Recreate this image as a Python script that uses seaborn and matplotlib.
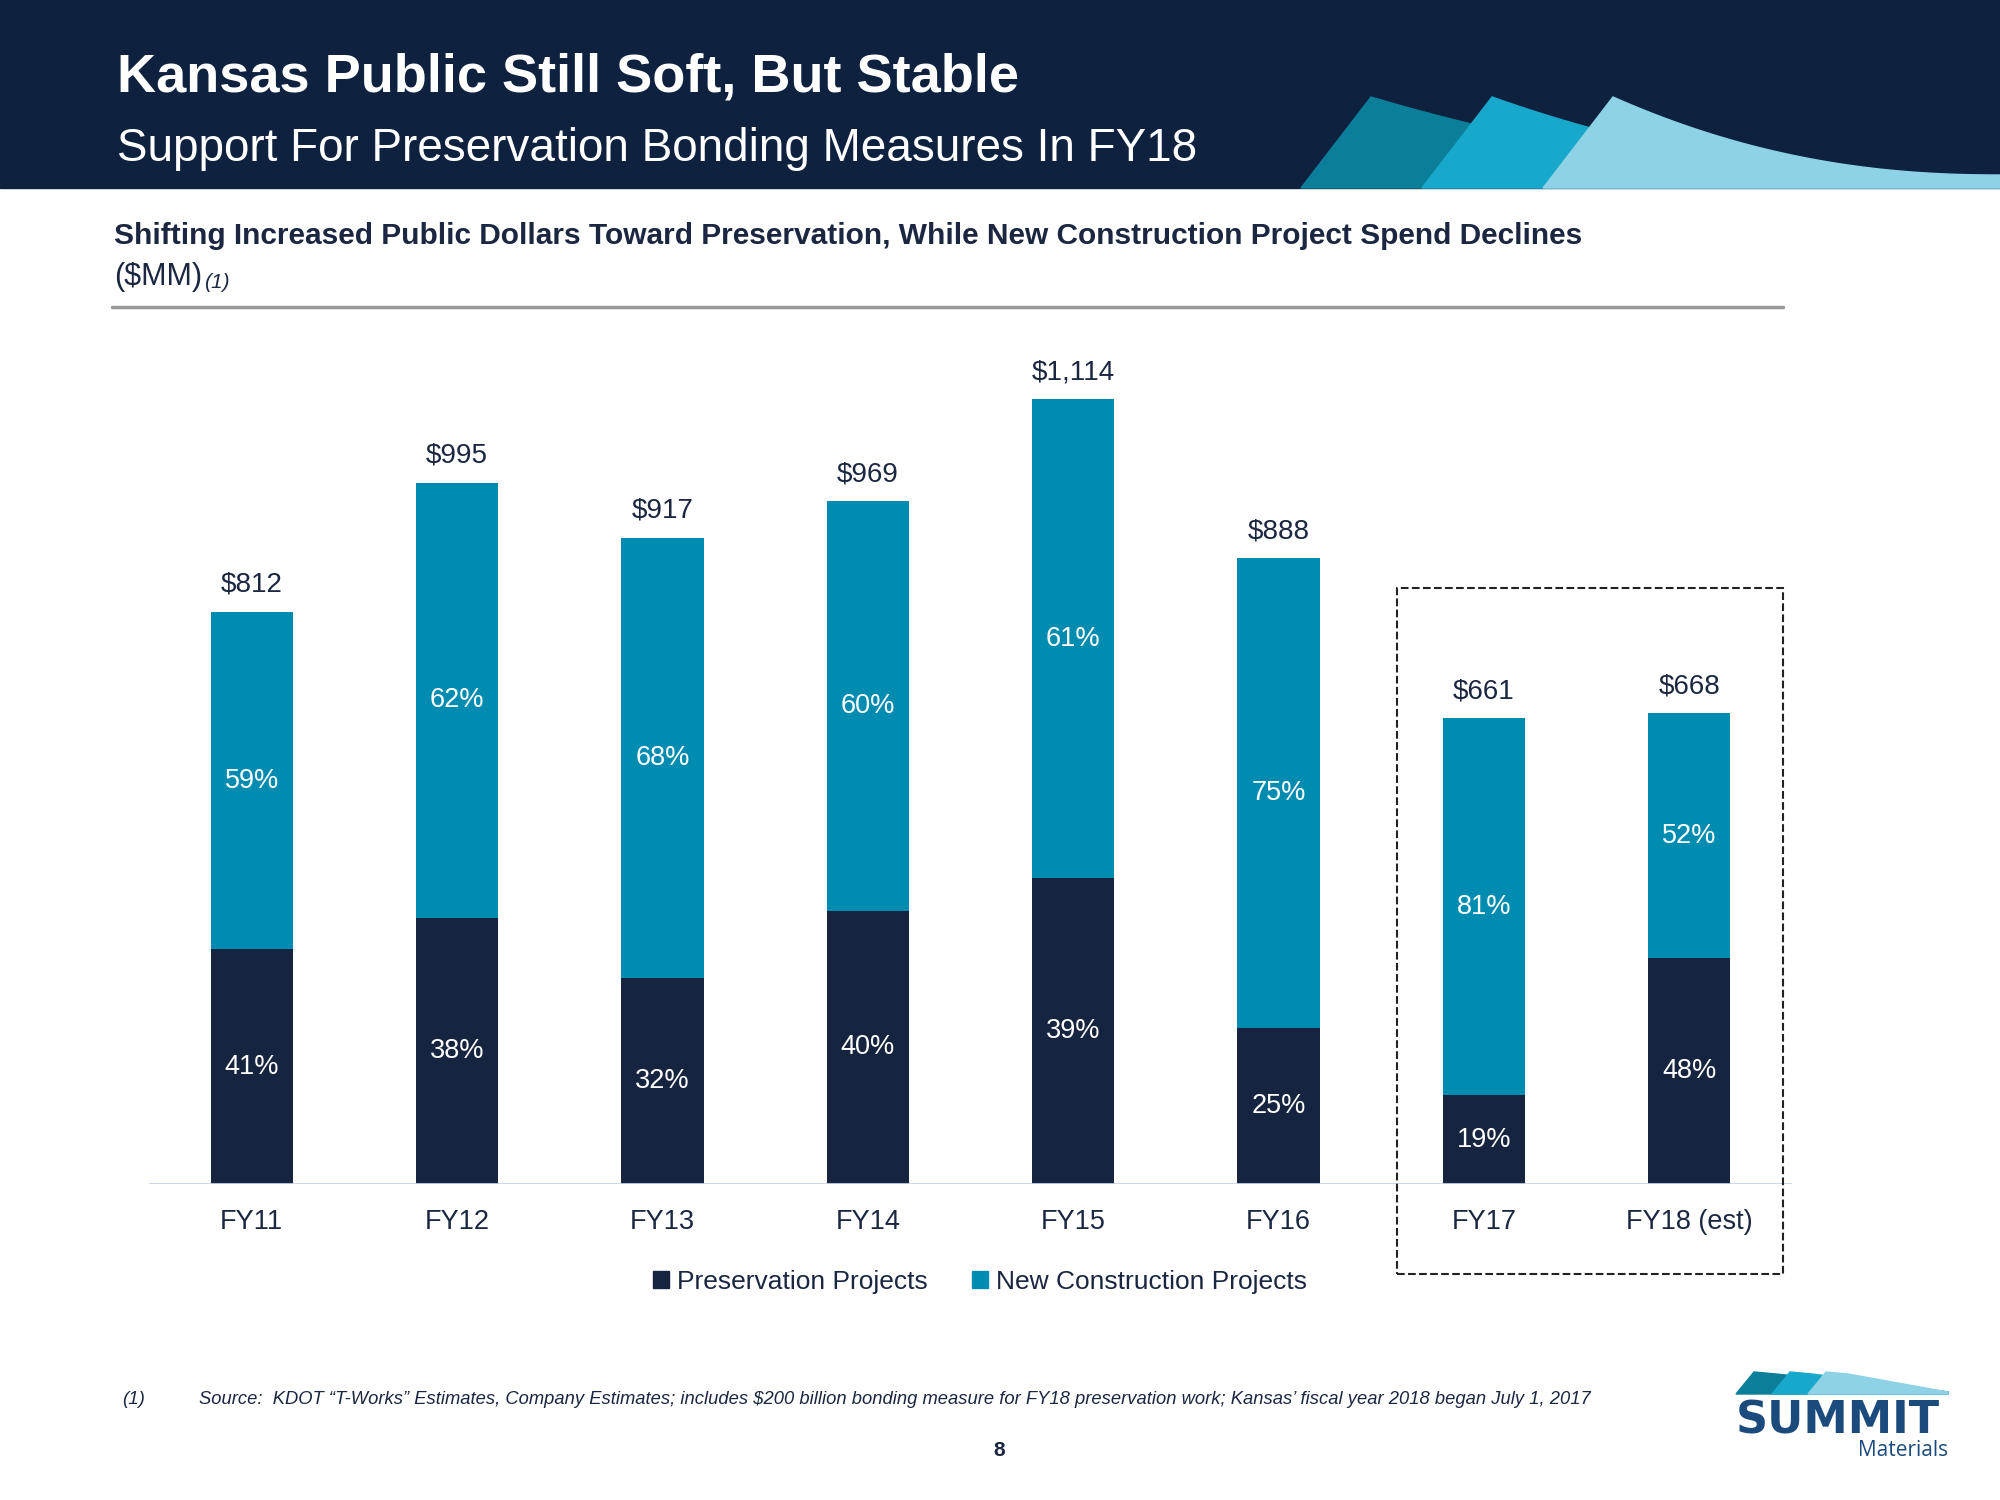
import numpy as np
import pandas as pd
import matplotlib.pyplot as plt
import seaborn as sns
from matplotlib.patches import Rectangle, Polygon

# Data ($MM)
years = ['FY11', 'FY12', 'FY13', 'FY14', 'FY15', 'FY16', 'FY17', 'FY18 (est)']
total_mm = [812, 995, 917, 969, 1114, 888, 661, 668]
preservation_mm = [333, 378, 293, 388, 434, 222, 126, 321]
preservation_pct = [41, 38, 32, 40, 39, 25, 19, 48]
new_constr_pct = [59, 62, 68, 60, 61, 75, 81, 52]
total_labels = ['$812', '$995', '$917', '$969', '$1,114', '$888', '$661', '$668']

NAVY = '#16243f'
TEAL = '#008bb0'
HEADER = '#0e2240'
TXT = '#1b2640'

sns.set_theme(style='white')
plt.rcParams['font.family'] = ['Liberation Sans', 'DejaVu Sans']

df = pd.DataFrame({'year': years, 'total': total_mm, 'pres': preservation_mm})

fig = plt.figure(figsize=(20, 15), dpi=100)
fig.patch.set_facecolor('white')

# header band
fig.patches.append(Rectangle((0, 1 - 188 / 1500), 1, 188 / 1500, transform=fig.transFigure,
                             color=HEADER, zorder=0))
# decorative waves in the header
for xb, xp, yr, col in [(1301, 1371, 182, '#0b7f9a'), (1422, 1492, 179, '#17a8cb'), (1543, 1613, 175, '#8dd2e5')]:
    xs = np.linspace(xp, 2000, 40)
    t = (xs - xp) / (2000 - xp)
    ys = 97 + (yr - 97) * (1 - (1 - t) ** 2.2)
    pts = [(xb, 188)] + list(zip(xs, ys)) + [(2000, 188)]
    pts = [(x / 2000, 1 - y / 1500) for x, y in pts]
    fig.patches.append(Polygon(pts, closed=True, transform=fig.transFigure, color=col, zorder=1))

fig.text(117 / 2000, 1 - 78 / 1500, 'Kansas Public Still Soft, But Stable', color='white',
         fontsize=39, fontweight='bold', va='center', ha='left')
fig.text(117 / 2000, 1 - 149 / 1500, 'Support For Preservation Bonding Measures In FY18', color='white',
         fontsize=33, va='center', ha='left')

fig.text(114 / 2000, 1 - 236 / 1500,
         'Shifting Increased Public Dollars Toward Preservation, While New Construction Project Spend Declines',
         color=TXT, fontsize=21.5, fontweight='bold', va='center', ha='left')
t1 = fig.text(114 / 2000, 1 - 277 / 1500, '($MM)', color=TXT, fontsize=22, va='center', ha='left')
fig.canvas.draw()
bb = t1.get_window_extent()
fig.text(bb.x1 / 2000 + 0.001, 1 - 282 / 1500, '(1)', color=TXT, fontsize=15, style='italic',
         va='center', ha='left')
fig.add_artist(plt.Line2D([112 / 2000, 1783 / 2000], [1 - 307 / 1500] * 2, color='#999999', lw=2.5))

# chart
ax = fig.add_axes([149 / 2000, 1 - 1184 / 1500, 1643 / 2000, (1184 - 338.6) / 1500])
sns.barplot(data=df, x='year', y='total', color=TEAL, width=0.4, saturation=1, linewidth=0, ax=ax)
sns.barplot(data=df, x='year', y='pres', color=NAVY, width=0.4, saturation=1, linewidth=0, ax=ax)
ax.set_xlim(-0.5, 7.5)
ax.set_ylim(0, 1200)
ax.axhline(0, color='#c5d3e8', lw=2, zorder=5)
sns.despine(ax=ax, left=True, bottom=True)
ax.set_yticks([])
ax.set_xlabel('')
ax.set_ylabel('')
ax.tick_params(axis='x', length=0, pad=18, labelsize=19.5, labelcolor=TXT)

for i in range(len(years)):
    ax.text(i, total_mm[i] + 20, total_labels[i], ha='center', va='bottom', fontsize=20, color=TXT)
    ax.text(i, preservation_mm[i] / 2, f'{preservation_pct[i]}%', ha='center', va='center',
            fontsize=19.5, color='white')
    ax.text(i, (preservation_mm[i] + total_mm[i]) / 2, f'{new_constr_pct[i]}%', ha='center', va='center',
            fontsize=19.5, color='white')

# dashed box around FY17 / FY18
fig.patches.append(Rectangle((1397 / 2000, 1 - 1274 / 1500), 386 / 2000, 686 / 1500, transform=fig.transFigure,
                             fill=False, ls='--', lw=1.5, ec='#222222', zorder=6))

handles = [Rectangle((0, 0), 1, 1, color=NAVY), Rectangle((0, 0), 1, 1, color=TEAL)]
fig.legend(handles, ['Preservation Projects', 'New Construction Projects'], loc='center',
           bbox_to_anchor=(980 / 2000, 1 - 1282 / 1500), ncol=2, frameon=False, fontsize=19,
           handlelength=0.6, handleheight=0.6, handletextpad=0.3, columnspacing=1.7, labelcolor=TXT)

# footnote and page number
fig.text(122 / 2000, 1 - 1399 / 1500, '(1)', fontsize=13.5, style='italic', color=TXT, va='center')
fig.text(199 / 2000, 1 - 1399 / 1500,
         'Source:  KDOT \u201cT-Works\u201d Estimates, Company Estimates; includes $200 billion bonding measure for '
         'FY18 preservation work; Kansas\u2019 fiscal year 2018 began July 1, 2017',
         fontsize=13.2, style='italic', color=TXT, va='center')
fig.text(999 / 2000, 1 - 1450 / 1500, '8', fontsize=15, fontweight='bold', color=TXT, ha='center', va='center')

# logo
for x0, col in [(1736, '#0b7f9a'), (1772, '#17a8cb'), (1808, '#8dd2e5')]:
    pts = [(x0, 1394), (x0 + 18, 1372), (x0 + 40, 1374), (1948, 1392), (1948, 1394)]
    fig.patches.append(Polygon([(x / 2000, 1 - y / 1500) for x, y in pts], closed=True,
                               transform=fig.transFigure, color=col))
fig.text(1838 / 2000, 1 - 1421 / 1500, 'SUMMIT', fontsize=32, fontweight='heavy', color='#1b4a7c',
         ha='center', va='center', family='DejaVu Sans')
fig.text(1948 / 2000, 1 - 1450 / 1500, 'Materials', fontsize=15, color='#1b4a7c', ha='right', va='center',
         family='Open Sans')

fig.savefig('out.png', dpi=100)
